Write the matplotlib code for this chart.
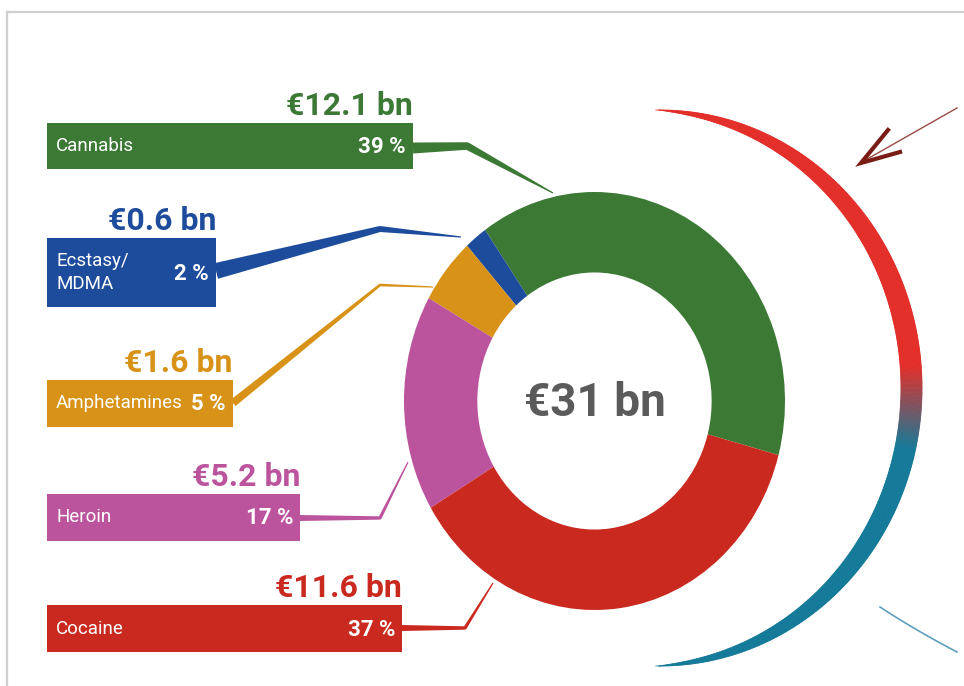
import matplotlib.pyplot as plt
import numpy as np
from matplotlib.collections import PolyCollection
from matplotlib.patches import Polygon, Rectangle

plt.rcParams['font.family'] = ['Roboto', 'DejaVu Sans']

# data
drugs = ['Cannabis', 'Ecstasy/\nMDMA', 'Amphetamines', 'Heroin', 'Cocaine']
values = [12.1, 0.6, 1.6, 5.2, 11.6]          # bn euro
shares = ['39 %', '2 %', '5 %', '17 %', '37 %']
colors = ['#3b7935', '#1e4c9c', '#d79217', '#bc549d', '#c9291e']

# label boxes in pixels: left, top, right, bottom
boxes = [(47, 123, 413, 169), (47, 238, 216, 307), (47, 380, 233, 427),
         (47, 494, 300, 541), (47, 605, 402, 652)]
# connector paths (box -> ring) and start width
links = [([(413, 148), (467, 146), (553, 193)], 11),
         ([(216, 271), (380, 229), (461, 237)], 16),
         ([(233, 403), (380, 285), (433, 287)], 8),
         ([(300, 518), (380, 518), (408, 462)], 6),
         ([(402, 628), (465, 628), (493, 583)], 6)]


def taper(pts, w0, w1, n=60):
    pts = np.array(pts, float)
    dense = [pts[0]]
    for a, b in zip(pts[:-1], pts[1:]):
        s = np.linspace(0, 1, n)[1:, None]
        dense.extend(a + (b - a) * s)
    p = np.array(dense)
    d = np.gradient(p, axis=0)
    d /= np.hypot(d[:, 0], d[:, 1])[:, None]
    nrm = np.column_stack([-d[:, 1], d[:, 0]])
    s = np.concatenate([[0], np.cumsum(np.hypot(*np.diff(p, axis=0).T))])
    w = (w0 + (w1 - w0) * s / s[-1])[:, None] / 2
    return np.vstack([p + nrm * w, (p - nrm * w)[::-1]])


fig = plt.figure(figsize=(9.64, 6.86), dpi=100)
ax = fig.add_axes([0, 0, 1, 1])
ax.set_xlim(0, 964)
ax.set_ylim(686, 0)
ax.axis('off')

# frame of the screenshot
ax.plot([7, 964], [12, 12], color='#cfcfcf', lw=1.6)
ax.plot([7, 7], [12, 686], color='#cfcfcf', lw=1.6)

# donut (image is slightly stretched vertically)
dax = fig.add_axes([404 / 964, (686 - 610) / 686, (785 - 404) / 964, (610 - 192) / 686])
dax.pie(values, colors=colors, startangle=-15, counterclock=True, radius=1,
        wedgeprops=dict(width=0.385, linewidth=0))
dax.set_aspect('auto')
dax.set_xlim(-1, 1)
dax.set_ylim(-1, 1)
dax.axis('off')

ax.text(595, 416, f'€{round(sum(values))} bn', ha='center', va='baseline',
        fontsize=33, fontweight='bold', color='#5b5b5b')

for i in range(len(drugs)):
    pts, w0 = links[i]
    ax.add_patch(Polygon(taper(pts, w0, 1.2), closed=True, color=colors[i], lw=0, zorder=2))
    x0, y0, x1, y1 = boxes[i]
    ax.add_patch(Rectangle((x0, y0), x1 - x0, y1 - y0, color=colors[i], lw=0, zorder=3))
    yc = (y0 + y1) / 2
    ax.text(x1, y0 - 8, f'€{values[i]} bn', ha='right', va='baseline', fontsize=23,
            fontweight='bold', color=colors[i], zorder=4)
    ax.text(x0 + 9, yc, drugs[i], ha='left', va='center', fontsize=13.5, color='white',
            linespacing=1.35, zorder=4)
    ax.text(x1 - 7, yc + 1, shares[i], ha='right', va='center', fontsize=16,
            fontweight='bold', color='white', zorder=4)

# red-to-blue crescent on the right
cx, cy, rx, ry = 660, 388, 262, 278
t = np.linspace(np.radians(91), np.radians(-91), 500)
w = 21 * np.clip(np.cos(t), 0, None) ** 0.8
ox, oy = cx + rx * np.cos(t), cy - ry * np.sin(t)
ix, iy = cx + (rx - w) * np.cos(t), cy - (ry - w) * np.sin(t)
red = np.array([0.89, 0.18, 0.16])
blue = np.array([0.08, 0.48, 0.60])
quads, cols = [], []
for k in range(len(t) - 1):
    quads.append([(ox[k], oy[k]), (ox[k + 1], oy[k + 1]), (ix[k + 1], iy[k + 1]), (ix[k], iy[k])])
    f = np.clip((oy[k] - 365) / 85, 0, 1)
    cols.append(red * (1 - f) + blue * f)
ax.add_collection(PolyCollection(quads, facecolors=cols, edgecolors=cols, linewidths=0.6))

# arrow top right
ax.plot([957, 862], [108, 162], color='#9a4a44', lw=1.0)
ax.plot([888, 861, 900], [130, 163, 152], color='#7a1c16', lw=3, solid_joinstyle='miter')

# thin blue line bottom right
u = np.linspace(0, 1, 50)
bx = (1 - u) ** 2 * 880 + 2 * u * (1 - u) * 915 + u ** 2 * 957
by = (1 - u) ** 2 * 607 + 2 * u * (1 - u) * 630 + u ** 2 * 652
ax.plot(bx, by, color='#5f9fbe', lw=1.2)

fig.savefig('out.png', dpi=100)
